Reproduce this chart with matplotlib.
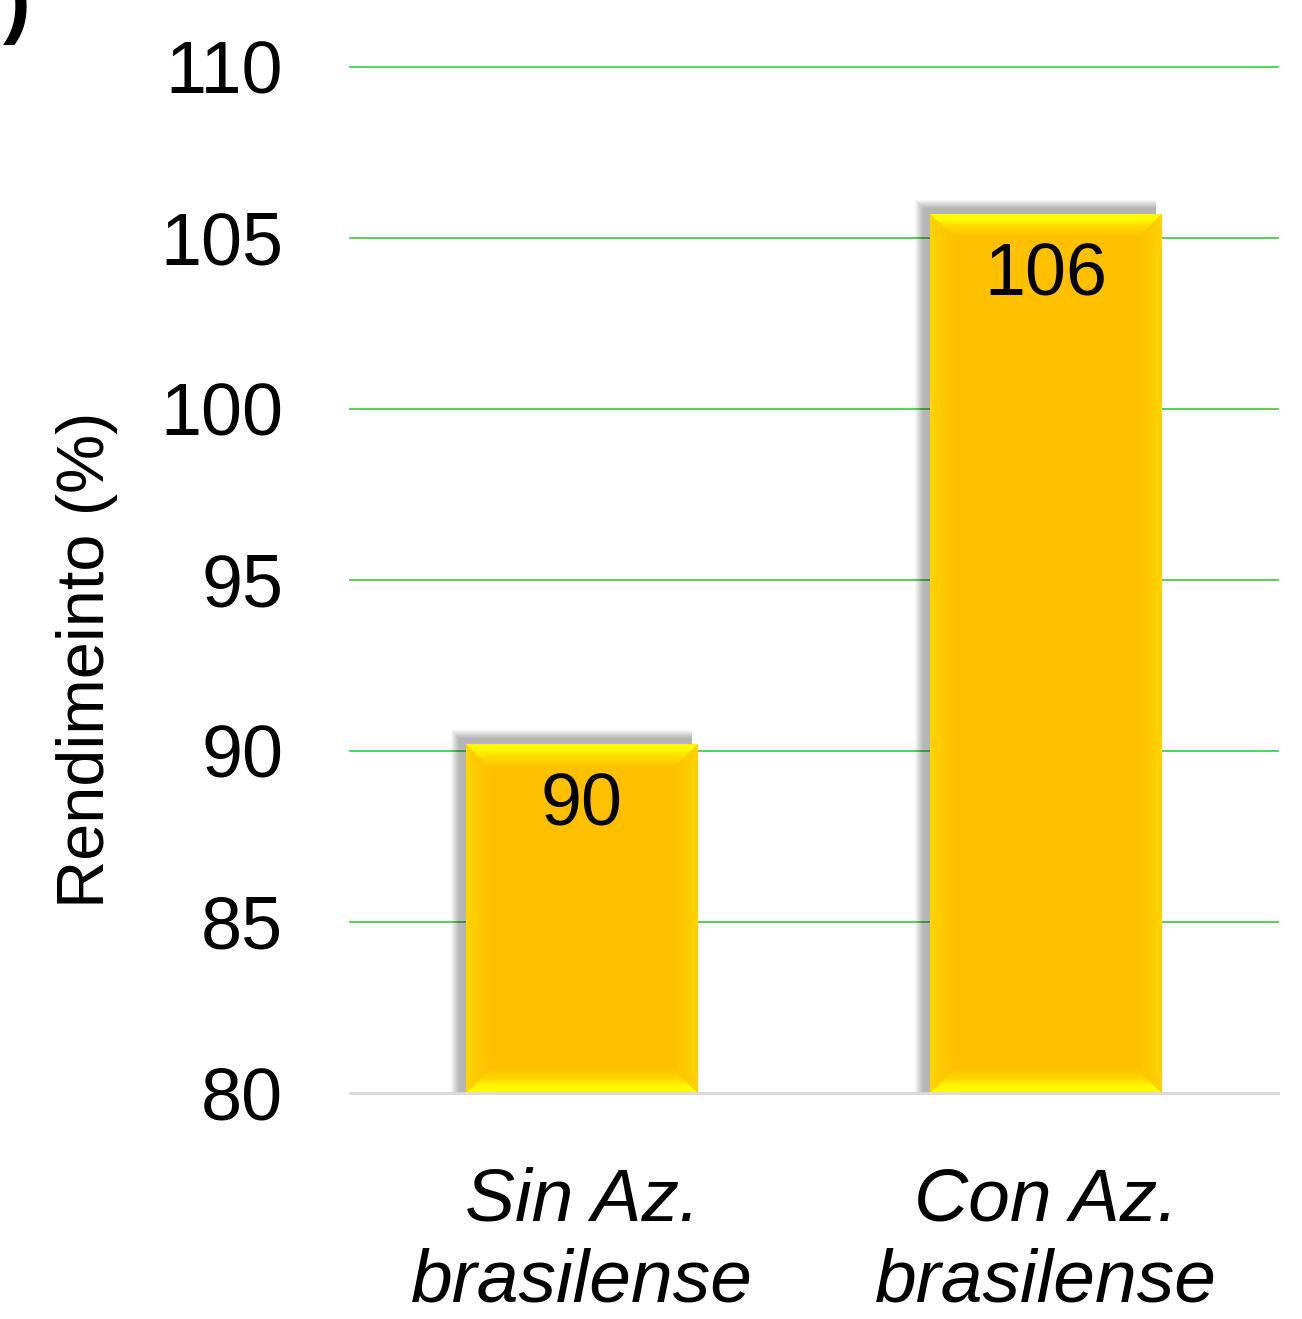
import numpy as np
import matplotlib
matplotlib.use('Agg')
import matplotlib.pyplot as plt
from matplotlib.patches import Polygon, Rectangle
from matplotlib.colors import LinearSegmentedColormap

plt.rcParams['font.family'] = ['Liberation Sans', 'DejaVu Sans']

# --- datos ---
categorias = ['Sin Az.\nbrasilense', 'Con Az.\nbrasilense']
rendimiento = [90.2, 105.7]
etiquetas = ['90', '106']
yticks = [80, 85, 90, 95, 100, 105, 110]

BAR_COLOR = '#FFC000'
GRID_COLOR = '#33CC33'


def bevel(ax, rect, px=25):
    # convierte px de pantalla a unidades de datos
    inv = ax.transData.inverted()
    p0 = inv.transform((0, 0))
    p1 = inv.transform((px, px))
    dx, dy = p1[0] - p0[0], p1[1] - p0[1]
    x0, y0 = rect.get_x(), rect.get_y()
    x1, y1 = x0 + rect.get_width(), y0 + rect.get_height()

    brillo = [(0.0, '#FFC000'), (0.45, '#FFD800'), (0.75, '#FFF800'), (1.0, '#FFFF00')]
    brillo_inv = [(1 - p, c) for p, c in brillo][::-1]
    lado = [(0.0, '#FFD400'), (1.0, '#FFC000')]
    lado_inv = [(0.0, '#FFC000'), (1.0, '#FFD400')]
    caras = {
        'top': ([(x0, y1), (x1, y1), (x1 - dx, y1 - dy), (x0 + dx, y1 - dy)],
                brillo, 'v', (x0, x1, y1 - dy, y1)),
        'bottom': ([(x0, y0), (x1, y0), (x1 - dx, y0 + dy), (x0 + dx, y0 + dy)],
                   brillo_inv, 'v', (x0, x1, y0, y0 + dy)),
        'left': ([(x0, y0), (x0, y1), (x0 + dx, y1 - dy), (x0 + dx, y0 + dy)],
                 lado, 'h', (x0, x0 + dx, y0, y1)),
        'right': ([(x1, y0), (x1, y1), (x1 - dx, y1 - dy), (x1 - dx, y0 + dy)],
                  lado_inv, 'h', (x1 - dx, x1, y0, y1)),
    }
    for nombre, (pts, cols, orient, ext) in caras.items():
        cmap = LinearSegmentedColormap.from_list(nombre, cols)
        g = np.linspace(0, 1, 64)
        img = g[:, None] if orient == 'v' else g[None, :]
        poly = Polygon(pts, closed=True, facecolor='none', edgecolor='none')
        ax.add_patch(poly)
        im = ax.imshow(img, cmap=cmap, extent=ext, origin='lower',
                       aspect='auto', zorder=3, interpolation='bilinear')
        im.set_clip_path(poly)


def sombra(ax, rect):
    inv = ax.transData.inverted()
    p0 = inv.transform((0, 0))
    for k in range(1, 10):
        p1 = inv.transform((k, k))
        ex, ey = p1[0] - p0[0], p1[1] - p0[1]
        sx = inv.transform((-6, 0))[0] - p0[0]
        sy = inv.transform((0, 5))[1] - p0[1]
        ax.add_patch(Rectangle((rect.get_x() - ex + sx, rect.get_y()),
                               rect.get_width() + ex,
                               rect.get_height() + ey + sy,
                               facecolor='black', edgecolor='none',
                               alpha=0.035, zorder=1.5))


fig = plt.figure(figsize=(13.02, 13.19), dpi=100)
ax = fig.add_axes([350 / 1302, 1 - 1093 / 1319, 928 / 1302, 1026 / 1319])

x = np.arange(len(categorias))
bars = ax.bar(x, [v - 80 for v in rendimiento], bottom=80, width=0.5,
              color=BAR_COLOR, zorder=2)

ax.set_xlim(-0.5, 1.5)
ax.set_ylim(80, 110)
ax.set_yticks(yticks)
ax.set_yticklabels([str(t) for t in yticks], fontsize=53)
ax.set_xticks(x)
ax.set_xticklabels(categorias, fontsize=54, style='italic', linespacing=1.22)
ax.tick_params(axis='y', length=0, pad=48)
ax.tick_params(axis='x', length=0, pad=53)

for t in yticks[1:]:
    ax.axhline(t, color=GRID_COLOR, lw=1.2, zorder=0, clip_on=False)

for s in ['top', 'right', 'left']:
    ax.spines[s].set_visible(False)
ax.spines['bottom'].set_color('#D9D9D9')
ax.spines['bottom'].set_linewidth(2)
ax.spines['bottom'].set_zorder(4)

ax.set_ylabel('Rendimeinto (%)', fontsize=48)
ax.yaxis.set_label_coords(-0.25, 0.422)

for rect, lab in zip(bars, etiquetas):
    sombra(ax, rect)
    bevel(ax, rect)
    ax.annotate(lab, (rect.get_x() + rect.get_width() / 2, rect.get_y() + rect.get_height()),
                xytext=(0, -20), textcoords='offset points', ha='center', va='top',
                fontsize=53, zorder=5)

ax.set_xlim(-0.5, 1.5)
ax.set_ylim(80, 110)

fig.text(0.002, 1 - 28 / 1319, ')', fontsize=60, fontweight='bold',
         ha='left', va='baseline')

fig.savefig('out.png', dpi=100)
